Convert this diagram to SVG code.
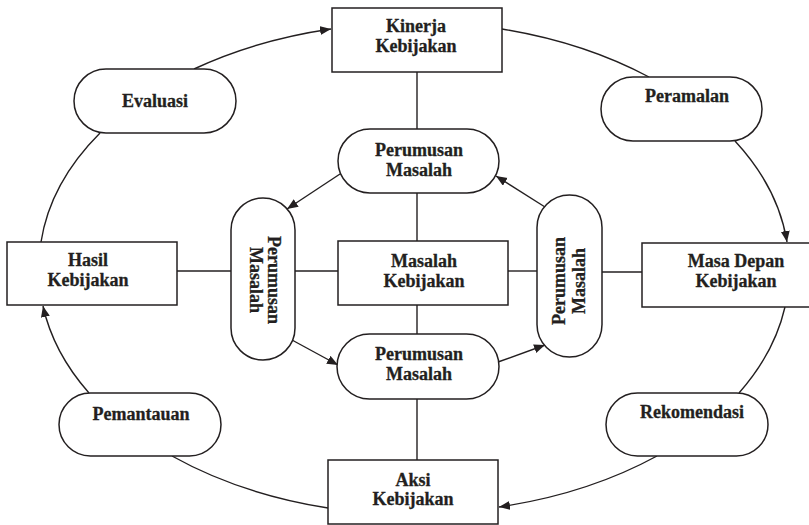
<svg xmlns="http://www.w3.org/2000/svg" width="809" height="525" viewBox="0 0 809 525">
<defs>
<style>
.box{fill:#fff;stroke:#231f20;stroke-width:1.5}
.ln{fill:none;stroke:#231f20;stroke-width:1.4}
.t{font-family:"Liberation Serif","Times New Roman",serif;font-weight:bold;font-size:18px;fill:#231f20;stroke:#231f20;stroke-width:0.3;text-anchor:middle}
</style>
<marker id="ah" markerUnits="userSpaceOnUse" markerWidth="12" markerHeight="10" refX="11" refY="4.5" orient="auto">
<path d="M0,0 L11,4.5 L0,9 z" fill="#231f20"/>
</marker>
</defs>
<rect width="809" height="525" fill="#fff"/>
<g id="connectors">
<path class="ln" d="M194,69 A376,245 0 0 1 331,29" marker-end="url(#ah)"/>
<path class="ln" d="M502,29 A376,245 0 0 1 649,77"/>
<path class="ln" d="M735,141 A376,245 0 0 1 787,242" marker-end="url(#ah)"/>
<path class="ln" d="M785,307 A376,245 0 0 1 739,393"/>
<path class="ln" d="M657,456 A376,245 0 0 1 499,507" marker-end="url(#ah)"/>
<path class="ln" d="M328,508 A376,245 0 0 1 172,456"/>
<path class="ln" d="M89,393 A376,245 0 0 1 43,306" marker-end="url(#ah)"/>
<path class="ln" d="M41,242 A376,245 0 0 1 100,133"/>
<line class="ln" x1="417" y1="72" x2="417" y2="129"/>
<line class="ln" x1="417" y1="193" x2="417" y2="241"/>
<line class="ln" x1="417" y1="305" x2="417" y2="334"/>
<line class="ln" x1="417" y1="399" x2="417" y2="460"/>
<line class="ln" x1="177" y1="271" x2="231" y2="271"/>
<line class="ln" x1="295" y1="271" x2="338" y2="271"/>
<line class="ln" x1="508" y1="271" x2="537" y2="271"/>
<line class="ln" x1="602" y1="272" x2="642" y2="272"/>
<line class="ln" x1="340" y1="174" x2="287" y2="209" marker-end="url(#ah)"/>
<line class="ln" x1="545" y1="207" x2="496" y2="176" marker-end="url(#ah)"/>
<line class="ln" x1="292" y1="340" x2="338" y2="365" marker-end="url(#ah)"/>
<line class="ln" x1="498" y1="362" x2="545" y2="345" marker-end="url(#ah)"/>
</g>
<g id="kinerja">
<rect class="box" x="332" y="8" width="170" height="64"/>
<text class="t" x="416" y="32">Kinerja</text>
<text class="t" x="416" y="52">Kebijakan</text>
</g>
<g id="evaluasi">
<rect class="box" x="74" y="69" width="162" height="64" rx="32"/>
<text class="t" x="155" y="107">Evaluasi</text>
</g>
<g id="peramalan">
<rect class="box" x="601" y="77" width="161" height="64" rx="32"/>
<text class="t" x="687" y="102">Peramalan</text>
</g>
<g id="hasil">
<rect class="box" x="7" y="242" width="170" height="63"/>
<text class="t" x="88" y="266">Hasil</text>
<text class="t" x="88" y="286">Kebijakan</text>
</g>
<g id="masadepan">
<rect class="box" x="642" y="243" width="175" height="64"/>
<text class="t" x="736" y="267">Masa Depan</text>
<text class="t" x="736" y="287">Kebijakan</text>
</g>
<g id="masalah">
<rect class="box" x="338" y="241" width="170" height="64"/>
<text class="t" x="424" y="267">Masalah</text>
<text class="t" x="424" y="287">Kebijakan</text>
</g>
<g id="perumusan-top">
<rect class="box" x="338" y="129" width="161" height="64" rx="32"/>
<text class="t" x="419" y="156">Perumusan</text>
<text class="t" x="419" y="175.5">Masalah</text>
</g>
<g id="perumusan-bottom">
<rect class="box" x="337" y="334" width="162" height="65" rx="32.5"/>
<text class="t" x="419" y="360">Perumusan</text>
<text class="t" x="419" y="379.5">Masalah</text>
</g>
<g id="perumusan-left">
<rect class="box" x="231" y="198" width="64" height="162" rx="32"/>
<text class="t" transform="translate(268,280) rotate(90)">Perumusan</text>
<text class="t" transform="translate(249.5,280) rotate(90)">Masalah</text>
</g>
<g id="perumusan-right">
<rect class="box" x="537" y="195" width="65" height="162" rx="32.5"/>
<text class="t" transform="translate(565,281) rotate(-90)">Perumusan</text>
<text class="t" transform="translate(585,281) rotate(-90)">Masalah</text>
</g>
<g id="rekomendasi">
<rect class="box" x="606" y="393" width="162" height="63" rx="31.5"/>
<text class="t" x="692" y="418">Rekomendasi</text>
</g>
<g id="pemantauan">
<rect class="box" x="59" y="393" width="162" height="63" rx="31.5"/>
<text class="t" x="141" y="420">Pemantauan</text>
</g>
<g id="aksi">
<rect class="box" x="328" y="460" width="170" height="64"/>
<text class="t" x="413" y="486">Aksi</text>
<text class="t" x="413" y="505">Kebijakan</text>
</g>
</svg>
